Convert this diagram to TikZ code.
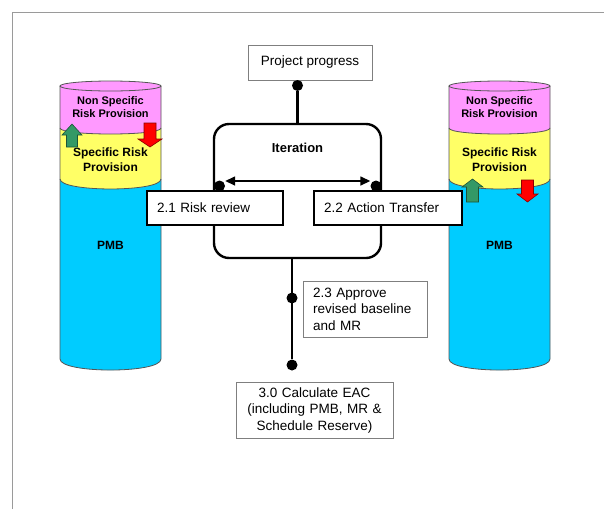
\documentclass[tikz,border=0pt]{standalone}
\usepackage{fontspec}
\setmainfont{Liberation Sans}
\usetikzlibrary{arrows.meta}
\definecolor{pinkband}{HTML}{FF99FF}
\definecolor{yellowband}{HTML}{FFFF66}
\definecolor{blueband}{HTML}{00CCFF}
\definecolor{upgreen}{HTML}{339966}
\definecolor{downred}{HTML}{FF0000}
\definecolor{rimgray}{HTML}{555555}
\definecolor{framegray}{HTML}{9A9A9A}
\definecolor{boxgray}{HTML}{7F7F7F}

\begin{document}
\begin{tikzpicture}[x=1pt,y=-1pt,
  rim/.style={draw=rimgray, line width=0.8pt},
  bandlabel/.style={font=\bfseries\fontsize{11}{12.6}\selectfont, align=center, inner sep=0pt},
  midlabel/.style={font=\bfseries\fontsize{12}{15}\selectfont, align=center, inner sep=0pt},
  plainbox/.style={draw=boxgray, line width=0.8pt, fill=white, font=\fontsize{13.5}{16.5}\selectfont},
  stepbox/.style={draw, line width=2pt, fill=white, font=\fontsize{13.5}{16}\selectfont,
    minimum height=34pt, inner xsep=10pt, align=left},
  joint/.style={circle, fill=black, inner sep=0pt, minimum size=11pt},
  link/.style={line width=2.4pt},
  upblock/.style={fill=upgreen, draw=upgreen!55!black, line width=0.6pt},
  downblock/.style={fill=downred, draw=downred!55!black, line width=0.6pt},
]
\useasboundingbox (0,0) rectangle (604,509);
\fill[white] (0,0) rectangle (604,509);

% page frame
\draw[framegray, line width=1.5pt] (12.5,509) -- (12.5,12.5) -- (604,12.5);

% the two budget cylinders: pink, yellow and blue bands
\foreach \cx in {110.5,499.5}{
  \fill[blueband] (\cx-50.5,179) -- (\cx-50.5,359)
     .. controls (\cx-50.5,373.7) and (\cx+50.5,373.7) .. (\cx+50.5,359)
     -- (\cx+50.5,179) -- cycle;
  \fill[yellowband] (\cx-50.5,128) -- (\cx-50.5,179)
     .. controls (\cx-50.5,192.3) and (\cx+50.5,192.3) .. (\cx+50.5,179)
     -- (\cx+50.5,128) -- cycle;
  \fill[pinkband] (\cx-50.5,86) -- (\cx-50.5,128)
     .. controls (\cx-50.5,136) and (\cx+50.5,136) .. (\cx+50.5,128)
     -- (\cx+50.5,86) -- cycle;
  \draw[rim] (\cx-50.5,86) -- (\cx-50.5,359)
     .. controls (\cx-50.5,373.7) and (\cx+50.5,373.7) .. (\cx+50.5,359)
     -- (\cx+50.5,86);
  \draw[rim] (\cx-50.5,128) .. controls (\cx-50.5,136) and (\cx+50.5,136) .. (\cx+50.5,128);
  \draw[rim] (\cx-50.5,179) .. controls (\cx-50.5,192.3) and (\cx+50.5,192.3) .. (\cx+50.5,179);
  \draw[rim, fill=pinkband] (\cx,86) ellipse [x radius=50.5pt, y radius=5pt];
}

% cylinder labels
\node[bandlabel] (lnsrp) at (110.5,107) {Non Specific\\Risk Provision};
\node[midlabel]  (lsrp)  at (110.5,159.5) {Specific Risk\\Provision};
\node[midlabel]  (lpmb)  at (110.5,245) {PMB};
\node[bandlabel] (rnsrp) at (499.5,107) {Non Specific\\Risk Provision};
\node[midlabel]  (rsrp)  at (499.5,159.5) {Specific Risk\\Provision};
\node[midlabel]  (rpmb)  at (499.5,245) {PMB};

% transfer arrows between the provisions
\draw[upblock] (72,124) -- (82,135) -- (77.5,135) -- (77.5,147) -- (66.5,147)
   -- (66.5,135) -- (62,135) -- cycle;
\draw[downblock] (144,123) -- (156,123) -- (156,139) -- (162,139) -- (150,147)
   -- (138,139) -- (144,139) -- cycle;
\draw[upblock] (472.5,179) -- (483,187) -- (478.5,187) -- (478.5,202) -- (466.5,202)
   -- (466.5,187) -- (462,187) -- cycle;
\draw[downblock] (521.5,180) -- (533.5,180) -- (533.5,194) -- (538,194) -- (527.5,202)
   -- (517,194) -- (521.5,194) -- cycle;

% process flow
\node[plainbox, minimum width=124pt, minimum height=35pt] (pp) at (310,62.5) {Project progress};
\node[draw, line width=2.4pt, rounded corners=15pt, minimum width=167pt,
      minimum height=134pt] (iter) at (297.5,191) {};
\node[font=\bfseries\fontsize{13}{15}\selectfont] (itlabel) at (297.5,148) {Iteration};

\node[stepbox, text width=116pt] (review) at (215,208) {2.1 Risk review};
\node[stepbox, text width=128pt] (transfer) at (388,208) {2.2 Action Transfer};

\node[joint] (jtop) at (297.5,85.5) {};
\node[joint] (jl) at (219.5,186) {};
\node[joint] (jr) at (376,186) {};
\node[joint] (j23) at (292,298) {};
\node[joint] (jend) at (292,365) {};

\draw[link] (jtop) -- (iter.north);
\draw[link] (iter.south -| jend) -- (jend);
\draw[line width=1.5pt, {Triangle[length=10pt,width=9pt]}-{Triangle[length=10pt,width=9pt]}]
  ([yshift=5pt]jl.east) -- ([yshift=5pt]jr.west);

\node[plainbox, text width=104pt, inner xsep=10pt, minimum height=56pt, align=left]
  (approve) at (365,309) {2.3 Approve\\revised baseline\\and MR};
\node[plainbox, text width=137pt, inner xsep=10pt, minimum height=56pt, align=center]
  (eac) at (314.5,410) {3.0 Calculate EAC\\(including PMB, MR \&\\Schedule Reserve)};
\end{tikzpicture}
\end{document}
